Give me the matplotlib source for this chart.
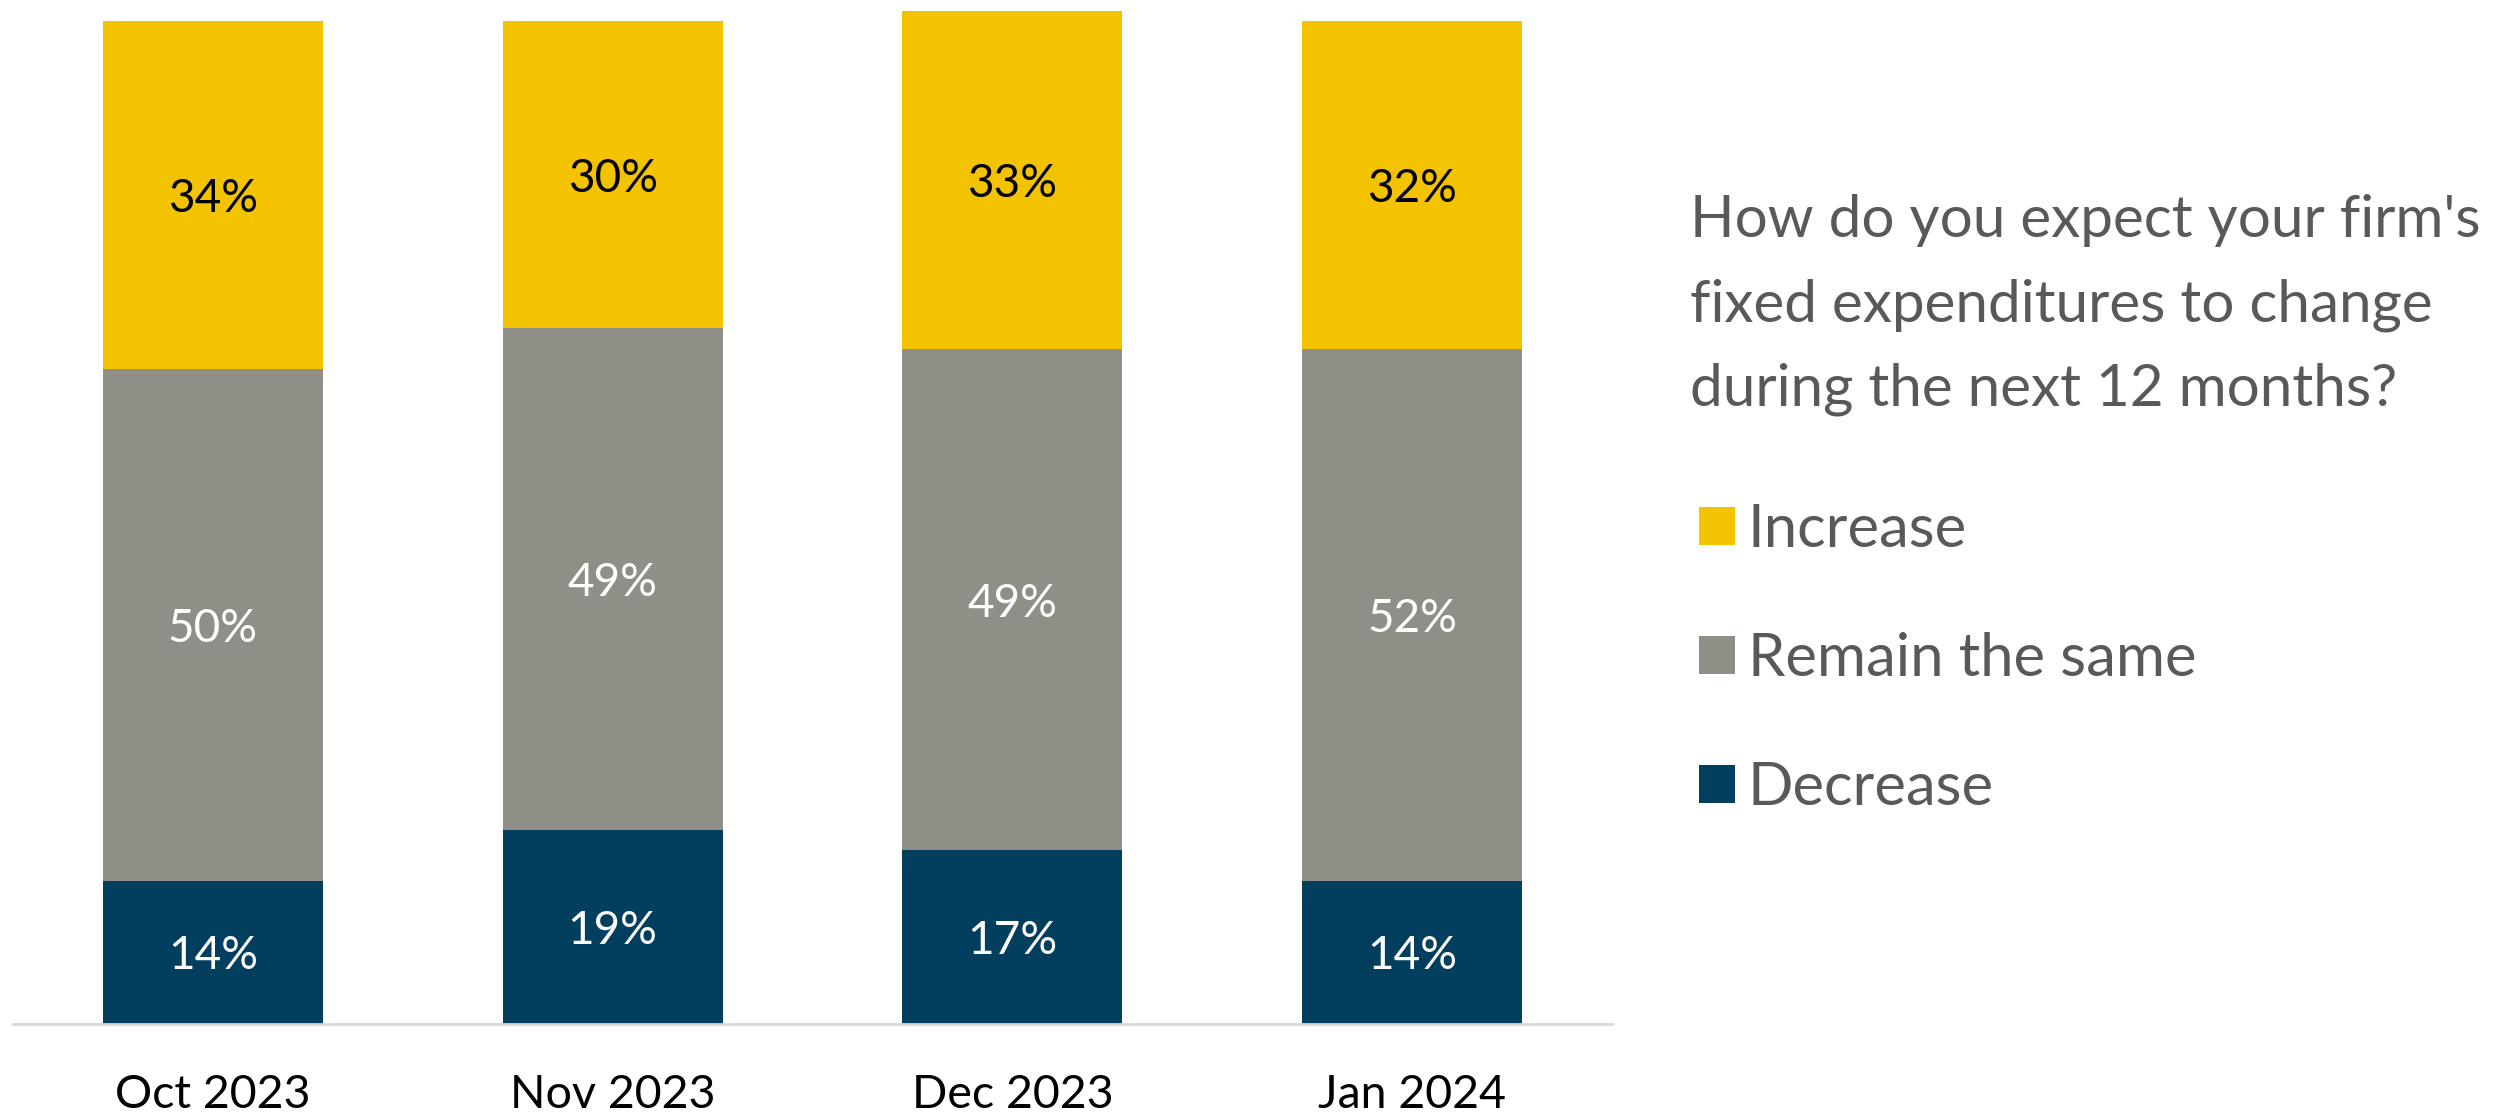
import matplotlib
matplotlib.use('agg')
import matplotlib.pyplot as plt
import numpy as np

plt.rcParams['font.family'] = ['Lato', 'DejaVu Sans']

months = ['Oct 2023', 'Nov 2023', 'Dec 2023', 'Jan 2024']
decrease = [14, 19, 17, 14]
remain = [50, 49, 49, 52]
increase = [34, 30, 33, 32]

series = [
    ('Decrease', decrease, '#023F5E', 'white'),
    ('Remain the same', remain, '#8F8F88', 'white'),
    ('Increase', increase, '#F3C300', 'black'),
]

fig = plt.figure(figsize=(25.2, 11.15), dpi=100)
ax = fig.add_axes([13 / 2520, 91 / 1115, 1599 / 2520, 1023 / 1115])

x = np.arange(len(months))
bottom = np.zeros(len(months))
handles = {}
for name, vals, color, txt in series:
    vals = np.array(vals, dtype=float)
    bars = ax.bar(x, vals, width=0.55, bottom=bottom, color=color, label=name)
    handles[name] = bars
    for xi, b, v in zip(x, bottom, vals):
        ax.text(xi, b + v / 2 - 0.4, f'{v:.0f}%', ha='center', va='center',
                fontsize=33, color=txt)
    bottom += vals

ax.set_xlim(-0.5, 3.5)
ax.set_ylim(0, 100)
ax.set_yticks([])
ax.set_xticks(x)
ax.set_xticklabels(months, fontsize=33.5)
ax.tick_params(axis='x', length=0, pad=36)
for s in ['top', 'right', 'left']:
    ax.spines[s].set_visible(False)
ax.spines['bottom'].set_color('#D9D9D9')
ax.spines['bottom'].set_linewidth(2)

# question text and legend on the right
fig.text(1690 / 2520, 1 - 305 / 1115,
         "How do you expect your firm's\nfixed expenditures to change\nduring the next 12 months?",
         ha='left', va='center', fontsize=42, color='#595959', linespacing=1.72)

order = ['Increase', 'Remain the same', 'Decrease']
leg = fig.legend([handles[n] for n in order], order, loc='center left',
                 bbox_to_anchor=(1669 / 2520, 1 - 659 / 1115), frameon=False,
                 fontsize=43, handlelength=0.6, handleheight=0.6,
                 handletextpad=0.22, labelspacing=1.25, borderpad=0)
for t in leg.get_texts():
    t.set_color('#595959')

fig.savefig('out.png', dpi=100)
